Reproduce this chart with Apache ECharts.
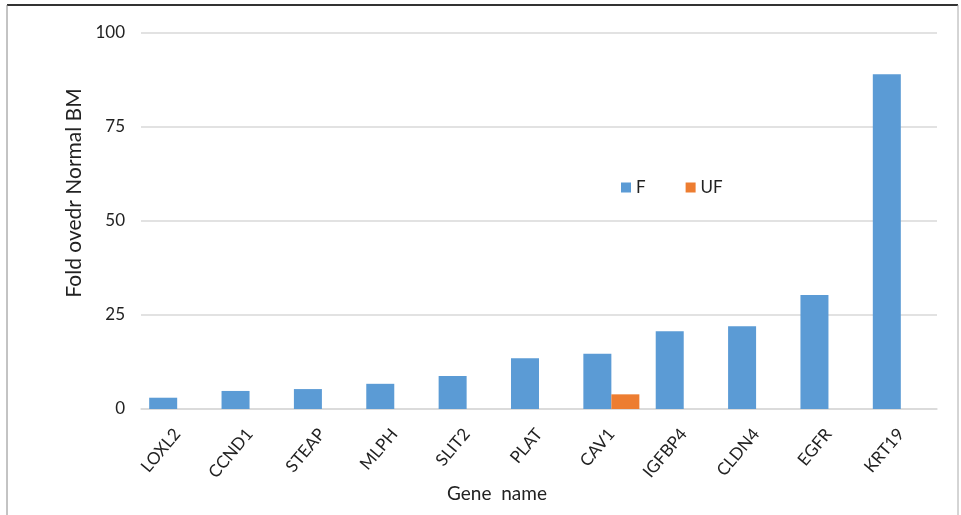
<!DOCTYPE html>
<html>
<head>
<meta charset="utf-8">
<script src="https://cdn.jsdelivr.net/npm/echarts@6/dist/echarts.min.js"></script>
<style>
  html, body { margin: 0; padding: 0; background: #fff; }
  #chart { width: 961px; height: 515px; }
</style>
</head>
<body>
<div id="chart"></div>
<script>
const genes = ['LOXL2', 'CCND1', 'STEAP', 'MLPH', 'SLIT2', 'PLAT', 'CAV1', 'IGFBP4', 'CLDN4', 'EGFR', 'KRT19']
const fValues = [3.0, 4.8, 5.3, 6.7, 8.8, 13.5, 14.7, 20.7, 22.0, 30.3, 89.0]
const ufValues = [null, null, null, null, null, null, 3.9, null, null, null, null]
const yTicks = { min: 0, max: 100, interval: 25 }

const font = 'Lato, "Open Sans", sans-serif'
const chart = echarts.init(document.getElementById('chart'))

chart.setOption({
  animation: false,
  grid: { left: 141, right: 24, top: 33, bottom: 106 },
  legend: {
    data: ['F', 'UF'],
    left: 616,
    top: 174,
    itemWidth: 10,
    itemHeight: 10,
    itemGap: 40,
    icon: 'rect',
    textStyle: { fontFamily: font, fontSize: 17, color: '#222' }
  },
  xAxis: {
    type: 'category',
    data: genes,
    axisLine: { lineStyle: { color: '#d9d9d9', width: 1.5 } },
    axisTick: { show: false },
    axisLabel: {
      rotate: 50,
      interval: 0,
      margin: 22,
      fontFamily: font,
      fontSize: 17,
      color: '#222'
    }
  },
  yAxis: {
    type: 'value',
    min: yTicks.min,
    max: yTicks.max,
    interval: yTicks.interval,
    axisLine: { show: false },
    axisTick: { show: false },
    axisLabel: { margin: 16, fontFamily: font, fontSize: 17, color: '#222' },
    splitLine: { lineStyle: { color: '#d9d9d9', width: 1.5 } }
  },
  series: [
    {
      name: 'F',
      type: 'bar',
      data: fValues,
      barGap: '0%',
      barCategoryGap: '22.6%',
      itemStyle: { color: '#5b9bd5' }
    },
    {
      name: 'UF',
      type: 'bar',
      data: ufValues,
      itemStyle: { color: '#ed7d31' }
    }
  ],
  graphic: [
    // picture frame
    { type: 'line', shape: { x1: 7, y1: 5, x2: 958, y2: 5 }, style: { stroke: '#333', lineWidth: 2 } },
    { type: 'line', shape: { x1: 7, y1: 5, x2: 7, y2: 515 }, style: { stroke: '#888', lineWidth: 1 } },
    { type: 'line', shape: { x1: 958, y1: 5, x2: 958, y2: 515 }, style: { stroke: '#aaa', lineWidth: 1 } },
    {
      type: 'text',
      x: 74,
      y: 193,
      rotation: Math.PI / 2,
      style: {
        text: 'Fold ovedr Normal BM',
        fontFamily: font,
        fontSize: 21,
        fill: '#222',
        align: 'center',
        verticalAlign: 'middle'
      }
    },
    {
      type: 'text',
      x: 497,
      y: 494,
      style: {
        text: 'Gene  name',
        fontFamily: font,
        fontSize: 19,
        fill: '#222',
        align: 'center',
        verticalAlign: 'middle'
      }
    }
  ]
})
</script>
</body>
</html>
